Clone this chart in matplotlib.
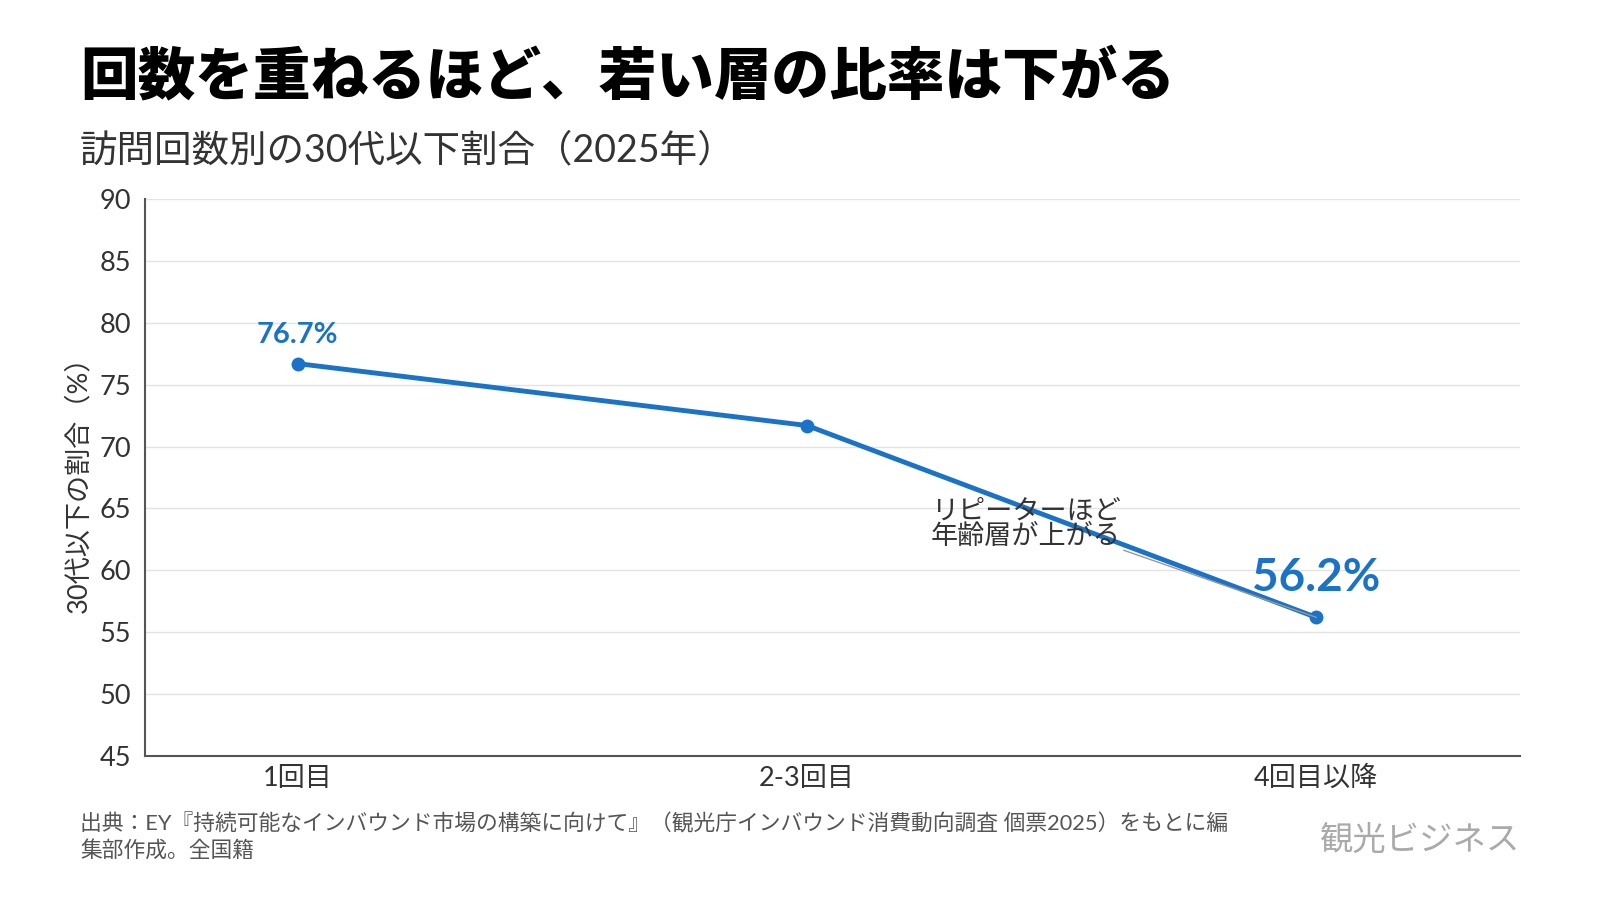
import matplotlib.pyplot as plt

plt.rcParams['font.family'] = ['Lato', 'Noto Sans CJK JP', 'DejaVu Sans']

categories = ['1回目', '2-3回目', '4回目以降']
share = [76.7, 71.7, 56.2]
yticks = [45, 50, 55, 60, 65, 70, 75, 80, 85, 90]

blue = '#1a73c6'
dark = '#333333'

fig = plt.figure(figsize=(16, 9), dpi=100)
ax = fig.add_axes([145/1600, 1 - 756/900, 1375/1600, 557/900])

x = list(range(len(categories)))
ax.plot(x, share, color=blue, lw=3.5, marker='o', ms=9, zorder=3)

ax.set_xlim(-0.3, 2.4)
ax.set_ylim(45, 90)
ax.set_yticks(yticks)
ax.set_xticks(x)
ax.set_xticklabels(categories)
ax.tick_params(axis='both', length=0, labelsize=19.5, colors=dark, pad=7)
ax.tick_params(axis='y', pad=10)
ax.grid(axis='y', color='#e3e3e3', lw=1)
ax.set_axisbelow(True)
for s in ['top', 'right']:
    ax.spines[s].set_visible(False)
for s in ['left', 'bottom']:
    ax.spines[s].set_color('#555555')
    ax.spines[s].set_linewidth(1.5)
ax.set_ylabel('30代以下の割合（%）', fontsize=19.5, color=dark, labelpad=6)

# value labels
ax.annotate(f'{share[0]}%', (x[0], share[0]), xytext=(0, 11), textcoords='offset points',
            ha='center', va='bottom', fontsize=21, fontweight='bold', color=blue)
ax.annotate(f'{share[2]}%', (x[2], share[2]), xytext=(0, 13), textcoords='offset points',
            ha='center', va='bottom', fontsize=33, fontweight='bold', color=blue)

# note with leader line
ax.annotate('リピーターほど\n年齢層が上がる', xy=(x[2], share[2]), xytext=(1.43, 61.7),
            fontsize=19.5, color=dark, ha='center', va='bottom', linespacing=1.05,
            arrowprops=dict(arrowstyle='-', color='#999999', lw=1,
                            shrinkA=0, shrinkB=0, relpos=(1.0, 0.0)))

fig.text(80/1600, 1 - 77/900, '回数を重ねるほど、若い層の比率は下がる', fontsize=41.5,
         fontweight='black', color='black', va='center', ha='left')
fig.text(80/1600, 1 - 150/900, '訪問回数別の30代以下割合（2025年）', fontsize=27,
         color=dark, va='center', ha='left')
fig.text(80/1600, 1 - 837/900,
         '出典：EY『持続可能なインバウンド市場の構築に向けて』（観光庁インバウンド消費動向調査 個票2025）をもとに編\n集部作成。全国籍',
         fontsize=15.7, color='#555555', va='center', ha='left', linespacing=1.3)
fig.text(1520/1600, 1 - 840/900, '観光ビジネス', fontsize=24, color='#aaaaaa',
         va='center', ha='right')

fig.savefig('out.png', dpi=100, facecolor='white')
